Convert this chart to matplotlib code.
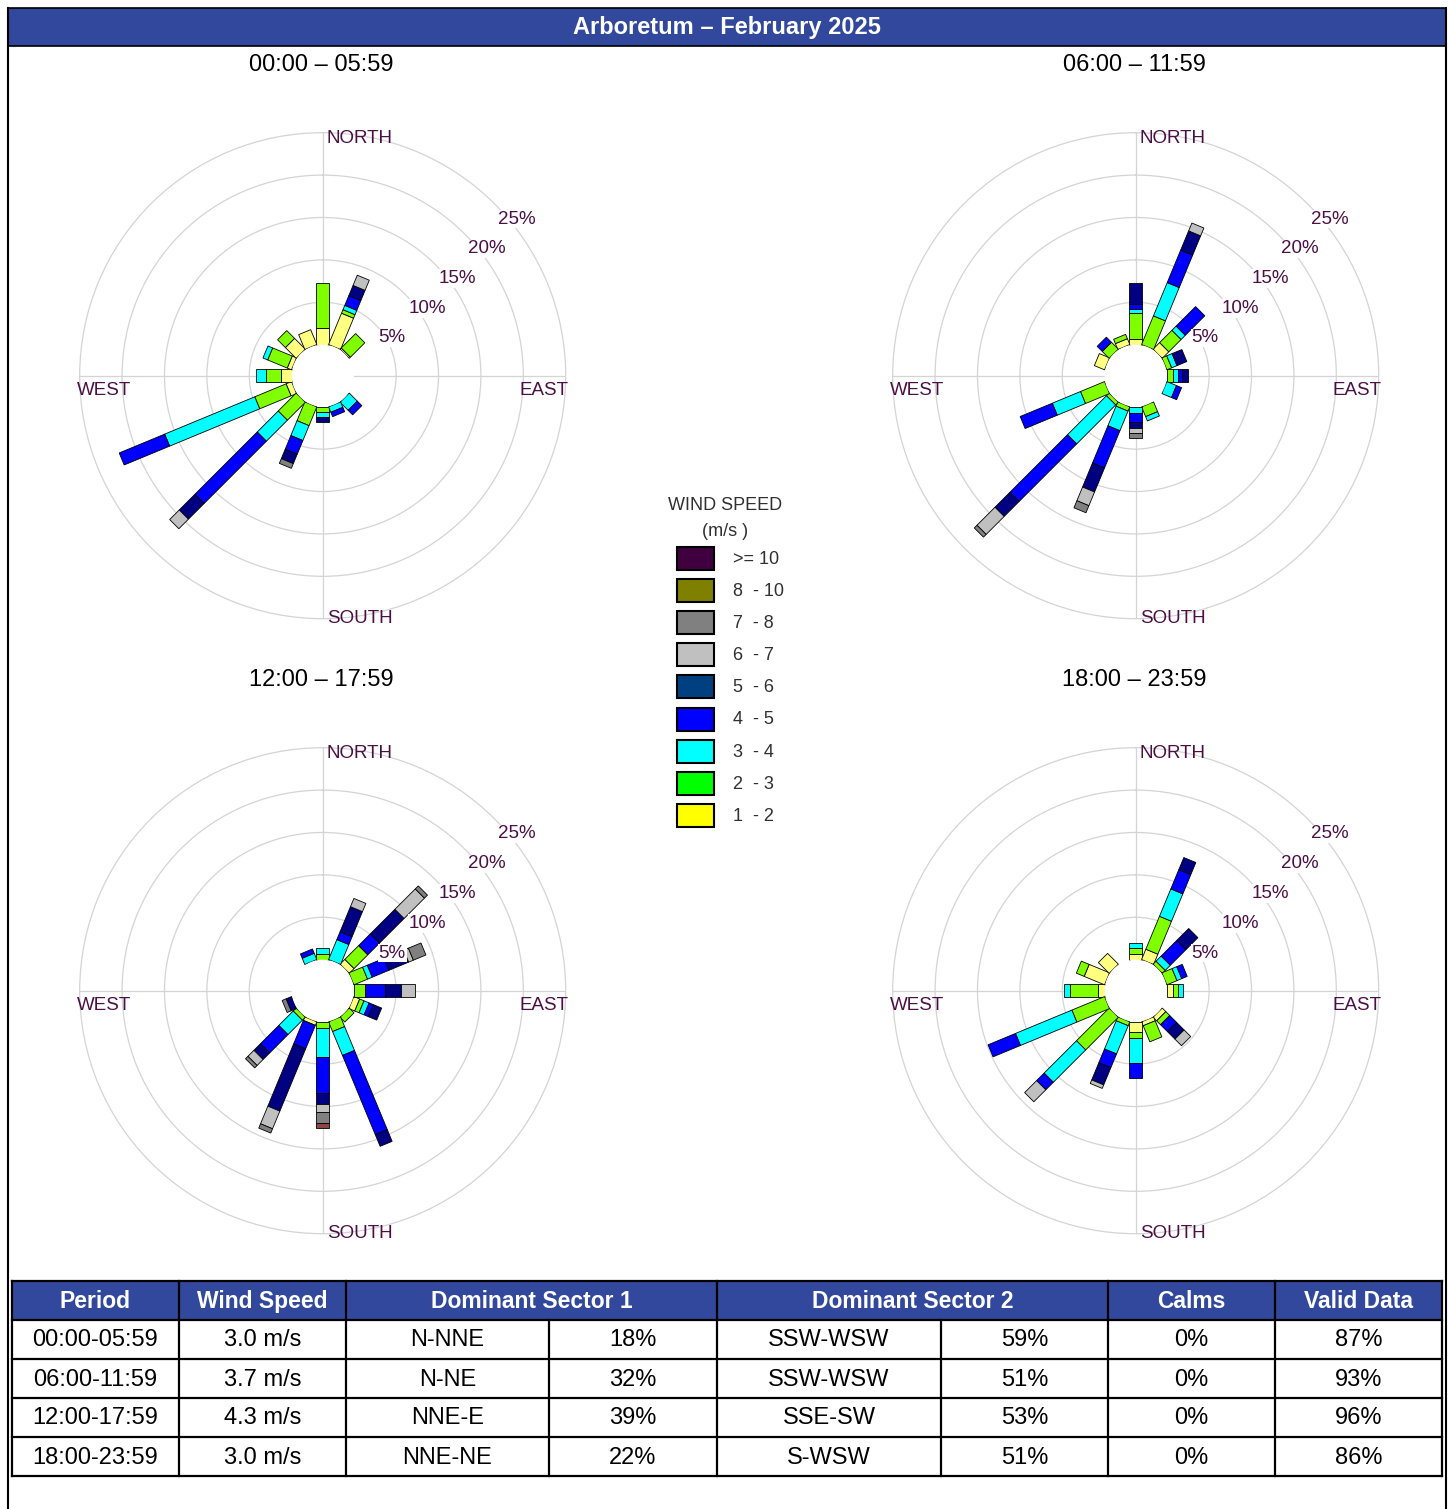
import numpy as np
import matplotlib
matplotlib.use("Agg")
import matplotlib.pyplot as plt
from matplotlib.patches import Rectangle

plt.rcParams['font.family'] = ['Liberation Sans', 'DejaVu Sans']

# ---------------- data ----------------
directions = ['N', 'NNE', 'NE', 'ENE', 'E', 'ESE', 'SE', 'SSE',
              'S', 'SSW', 'SW', 'WSW', 'W', 'WNW', 'NW', 'NNW']
speed_classes = ['1-2', '2-3', '3-4', '4-5', '5-6', '6-7', '7-8', '8-10', '>=10']
periods = ['00:00 \u2013 05:59', '06:00 \u2013 11:59', '12:00 \u2013 17:59', '18:00 \u2013 23:59']
title = 'Arboretum \u2013 February 2025'
compass_labels = ['NORTH', 'EAST', 'SOUTH', 'WEST']
ring_values = [5, 10, 15, 20, 25]

# frequency (% of time) per speed class (rows) and direction (columns)
freq_0000 = [
    [1.93, 4.00, 0.20, 0, 0, 0, 0, 0, 0, 0, 0, 0.70, 1.30, 0.55, 1.80, 1.90],
    [5.38, 0.45, 2.40, 0, 0, 0, 0, 0, 0.60, 2.40, 3.00, 4.00, 1.70, 2.50, 1.30, 0],
    [0, 0.55, 0, 0, 0, 0, 1.35, 0.70, 0.60, 1.90, 3.50, 11.50, 1.20, 0.60, 0, 0],
    [0, 1.25, 0, 0, 0, 0, 0.75, 0.55, 0, 1.75, 10.40, 5.80, 0, 0, 0, 0],
    [0, 1.30, 0, 0, 0, 0, 0, 0, 0.65, 1.20, 2.60, 0, 0, 0, 0, 0],
    [0, 1.30, 0, 0, 0, 0, 0, 0, 0, 0, 1.60, 0, 0, 0, 0, 0],
    [0, 0, 0, 0, 0, 0, 0, 0, 0, 0.60, 0, 0, 0, 0, 0, 0],
    [0, 0, 0, 0, 0, 0, 0, 0, 0, 0, 0, 0, 0, 0, 0, 0],
    [0, 0, 0, 0, 0, 0, 0, 0, 0, 0, 0, 0, 0, 0, 0, 0],
]
freq_0600 = [
    [0.65, 0, 1.10, 0, 0, 0, 0, 0, 0, 0, 0, 0, 0, 1.30, 0, 0.75],
    [3.05, 3.66, 2.05, 0.62, 0.70, 0, 0, 1.25, 0, 0.55, 0.45, 3.07, 0, 0, 1.15, 0.55],
    [0.50, 4.25, 0.70, 0.68, 0.60, 1.23, 0, 0.55, 0.75, 2.50, 6.50, 3.60, 0, 0, 0, 0],
    [0.65, 4.15, 3.25, 0, 0.50, 0.65, 0, 0, 1.05, 4.75, 9.60, 4.10, 0, 0, 0.85, 0],
    [2.45, 2.45, 0, 1.25, 0.75, 0, 0, 0, 0.75, 3.07, 2.50, 0, 0, 0, 0, 0],
    [0, 1.00, 0, 0, 0, 0, 0, 0, 0.50, 1.75, 3.00, 0, 0, 0, 0, 0],
    [0, 0, 0, 0, 0, 0, 0, 0, 0.65, 0.90, 0.45, 0, 0, 0, 0, 0],
    [0, 0, 0, 0, 0, 0, 0, 0, 0, 0, 0, 0, 0, 0, 0, 0],
    [0, 0, 0, 0, 0, 0, 0, 0, 0, 0, 0, 0, 0, 0, 0, 0],
]
freq_1200 = [
    [0, 0, 0.80, 0, 0, 0.75, 0, 0, 0, 0.45, 0, 0, 0, 0, 0, 0],
    [0.70, 0, 2.30, 1.75, 1.35, 0.55, 0.80, 1.24, 0.75, 0, 0.50, 0, 0, 0, 0, 0],
    [0.65, 2.55, 0, 0.60, 0, 0.65, 0, 3.05, 3.45, 0, 2.40, 0, 0, 0, 0, 0.80],
    [0, 1.00, 1.95, 2.15, 2.35, 0.55, 0, 10.10, 4.25, 3.00, 3.05, 0, 0, 0, 0, 0.55],
    [0, 3.20, 4.10, 2.50, 1.85, 1.05, 0, 1.50, 1.20, 7.95, 1.10, 0.70, 0, 0, 0, 0],
    [0, 1.05, 3.40, 0.60, 1.70, 0, 0, 0, 1.05, 2.25, 1.00, 0, 0, 0, 0, 0],
    [0, 0, 0.50, 1.60, 0, 0, 0, 0, 1.30, 0.55, 0.40, 0.50, 0, 0, 0, 0],
    [0, 0, 0, 0, 0, 0, 0, 0, 0.50, 0, 0, 0, 0, 0, 0, 0],
    [0, 0, 0, 0, 0, 0, 0, 0, 0, 0, 0, 0, 0, 0, 0, 0],
]
freq_1800 = [
    [0.72, 1.32, 0, 0, 0.70, 0, 0.60, 0.50, 1.18, 0, 0, 0, 0.75, 2.60, 1.80, 0],
    [0.60, 4.20, 0.50, 1.30, 0.60, 0, 0.65, 2.05, 0.70, 0.50, 5.45, 4.17, 3.35, 1.00, 0, 0],
    [0.70, 3.50, 0.85, 0.60, 0.65, 0, 0, 0, 2.95, 3.60, 5.40, 7.20, 0.75, 0, 0, 0],
    [0, 2.45, 2.60, 0.70, 0, 0, 1.15, 0, 1.75, 1.75, 1.25, 3.50, 0, 0, 0, 0],
    [0, 1.55, 2.00, 0, 0, 0, 1.25, 0, 0, 2.20, 0, 0, 0, 0, 0, 0],
    [0, 0, 0, 0, 0, 0, 1.10, 0, 0, 0.45, 2.00, 0, 0, 0, 0, 0],
    [0, 0, 0, 0, 0, 0, 0, 0, 0, 0, 0, 0, 0, 0, 0, 0],
    [0, 0, 0, 0, 0, 0, 0, 0, 0, 0, 0, 0, 0, 0, 0, 0],
    [0, 0, 0, 0, 0, 0, 0, 0, 0, 0, 0, 0, 0, 0, 0, 0],
]
rose_data = [freq_0000, freq_0600, freq_1200, freq_1800]

# legend
legend_title = ['WIND SPEED', '(m/s )']
legend_labels = ['>= 10', '8  - 10', '7  - 8', '6  - 7', '5  - 6', '4  - 5', '3  - 4', '2  - 3', '1  - 2']

# summary table
table_headers = ['Period', 'Wind Speed', 'Dominant Sector 1', 'Dominant Sector 2', 'Calms', 'Valid Data']
table_period = ['00:00-05:59', '06:00-11:59', '12:00-17:59', '18:00-23:59']
table_speed = ['3.0 m/s', '3.7 m/s', '4.3 m/s', '3.0 m/s']
dom1_sector = ['N-NNE', 'N-NE', 'NNE-E', 'NNE-NE']
dom1_pct = ['18%', '32%', '39%', '22%']
dom2_sector = ['SSW-WSW', 'SSW-WSW', 'SSE-SW', 'S-WSW']
dom2_pct = ['59%', '51%', '53%', '51%']
calms = ['0%', '0%', '0%', '0%']
valid_data = ['87%', '93%', '96%', '86%']

# ---------------- styles ----------------
bar_colors = ['#FFFF80', '#80FF00', '#00FFFF', '#0000FF', '#000080',
              '#C0C0C0', '#808080', '#8C4444', '#400040']
legend_colors = ['#400040', '#808000', '#808080', '#C0C0C0', '#004080',
                 '#0000FF', '#00FFFF', '#00FF00', '#FFFF00']
navy_hdr = '#31489D'
label_col = '#4B0F45'
grid_col = '#D4D4D4'

W, H = 1450, 1509
fig = plt.figure(figsize=(W / 100, H / 100), dpi=100)
fig.patch.set_facecolor('white')

# canvas axes in pixel coordinates
cv = fig.add_axes([0, 0, 1, 1])
cv.set_xlim(0, W)
cv.set_ylim(H, 0)
cv.axis('off')

# frame and title bar
cv.plot([8, 8], [8, H], color='black', lw=1.5)
cv.plot([1446, 1446], [8, H], color='black', lw=1.5)
cv.add_patch(Rectangle((8, 8), 1438, 38, facecolor=navy_hdr, edgecolor='black', lw=1.2))
cv.text(727, 27.5, title, color='white', fontsize=17, fontweight='bold', ha='center', va='center')

centers = [(322.7, 375.7), (1135.7, 375.7), (322.7, 990.7), (1135.7, 990.7)]
sub_y = [65, 65, 680, 680]
for (cx, cy), sy, txt in zip(centers, sub_y, periods):
    cv.text(cx - 1, sy, txt, fontsize=17, ha='center', va='center', color='black')

# ---------------- wind roses ----------------
RPX = 243.0            # outer radius in px (25 %)
R_OFF = 3.66           # hole offset in % units
HALF = 0.767           # half bar width in % units
theta = np.radians(np.arange(16) * 22.5)


def seg_polygon(th0, a, b):
    da, db = a + R_OFF, b + R_OFF
    pts = [(da, -HALF), (db, -HALF), (db, HALF), (da, HALF)]
    th = [th0 + np.arctan2(h, d) for d, h in pts]
    rr = [np.hypot(d, h) - R_OFF for d, h in pts]
    return th, rr


for (cx, cy), freq in zip(centers, rose_data):
    ax = fig.add_axes([(cx - RPX) / W, 1 - (cy + RPX) / H, 2 * RPX / W, 2 * RPX / H],
                      projection='polar')
    ax.set_theta_zero_location('N')
    ax.set_theta_direction(-1)
    ax.set_ylim(0, 25)
    ax.set_rorigin(-R_OFF)
    ax.patch.set_alpha(0)
    ax.set_yticks(ring_values[:-1])
    ax.set_yticklabels([])
    ax.set_xticks(np.radians([0, 90, 180, 270]))
    ax.set_xticklabels([])
    ax.tick_params(length=0)
    ax.grid(True, color=grid_col, lw=0.9)
    for name, sp in ax.spines.items():
        if name == 'polar':
            sp.set_color(grid_col)
            sp.set_linewidth(0.9)
        else:
            sp.set_color('none')
            sp.set_linewidth(0)

    arr = np.array(freq, dtype=float)
    cum = np.cumsum(arr, axis=0)
    for k in range(arr.shape[0]):
        for j in range(16):
            if arr[k, j] <= 0:
                continue
            top = cum[k, j]
            bot = top - arr[k, j]
            th, rr = seg_polygon(theta[j], bot, top)
            ax.fill(th, rr, facecolor=bar_colors[k], edgecolor='black', lw=0.6, zorder=3)

    # compass labels
    s = 2 * RPX
    fs = 13.5
    ax.text(0.5 + 4 / s, 0.5 + 237 / s, compass_labels[0], transform=ax.transAxes,
            ha='left', va='center', fontsize=fs, color=label_col)
    ax.text(0.5 + 246 / s, 0.5 - 15 / s, compass_labels[1], transform=ax.transAxes,
            ha='right', va='center', fontsize=fs, color=label_col)
    ax.text(0.5 + 4 / s, 0.5 - 243 / s, compass_labels[2], transform=ax.transAxes,
            ha='left', va='center', fontsize=fs, color=label_col)
    ax.text(0.5 - 246 / s, 0.5 - 15 / s, compass_labels[3], transform=ax.transAxes,
            ha='left', va='center', fontsize=fs, color=label_col)
    # ring labels
    for i, v in enumerate(ring_values):
        ax.text(0.5 + (56 + 29.75 * i) / s, 0.5 + (37.7 + 29.75 * i) / s, f'{v}%',
                transform=ax.transAxes, ha='left', va='center', fontsize=13.5,
                color=label_col, zorder=10,
                bbox=dict(facecolor='white', edgecolor='none', pad=0.5))

# ---------------- legend ----------------
cv.text(725, 505, legend_title[0], fontsize=13, ha='center', va='center', color='#303030')
cv.text(725, 531, legend_title[1], fontsize=13, ha='center', va='center', color='#303030')
box_y = [558 + 32.2 * i for i in range(len(legend_labels))]
for yy, lab, col in zip(box_y, legend_labels, legend_colors):
    cv.add_patch(Rectangle((677, yy - 11.5), 37, 23, facecolor=col, edgecolor='black', lw=1.5))
    cv.text(733, yy + 1, lab, fontsize=13, ha='left', va='center', color='#303030')

# ---------------- table ----------------
xb = [12, 179, 346, 549, 717, 941, 1108, 1275, 1442]
yb = [1281, 1320, 1359, 1398, 1437, 1476]
cv.add_patch(Rectangle((xb[0], yb[0]), xb[-1] - xb[0], yb[1] - yb[0],
                       facecolor=navy_hdr, edgecolor='none'))
hdr_x = [(xb[0] + xb[1]) / 2, (xb[1] + xb[2]) / 2, (xb[2] + xb[4]) / 2,
         (xb[4] + xb[6]) / 2, (xb[6] + xb[7]) / 2, (xb[7] + xb[8]) / 2]
for hx, h in zip(hdr_x, table_headers):
    cv.text(hx, (yb[0] + yb[1]) / 2 + 1, h, color='white', fontsize=16.5,
            fontweight='bold', ha='center', va='center')
lwt = 1.6
for y in yb:
    cv.plot([xb[0], xb[-1]], [y, y], color='black', lw=lwt, solid_capstyle='projecting')
for i, x in enumerate(xb):
    y0 = yb[1] if i in (3, 5) else yb[0]
    cv.plot([x, x], [y0, yb[-1]], color='black', lw=lwt, solid_capstyle='projecting')
cols = [table_period, table_speed, dom1_sector, dom1_pct, dom2_sector, dom2_pct, calms, valid_data]
for c, col in enumerate(cols):
    xc = (xb[c] + xb[c + 1]) / 2
    for r, val in enumerate(col):
        yc = (yb[r + 1] + yb[r + 2]) / 2 + 1
        cv.text(xc, yc, val, fontsize=17, ha='center', va='center', color='black')

fig.savefig('out.png', dpi=100, facecolor='white')
